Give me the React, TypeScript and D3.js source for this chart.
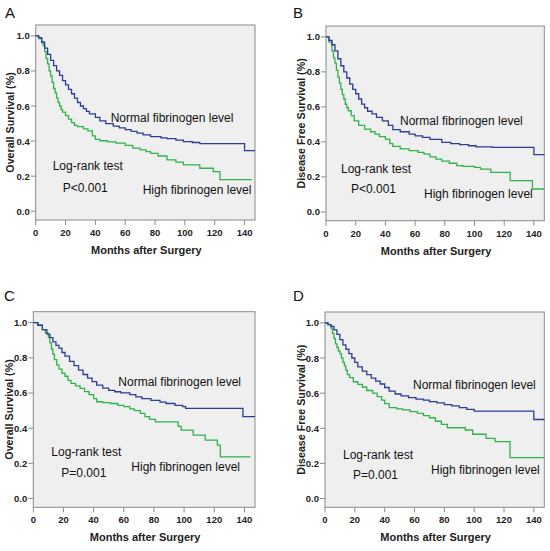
import React from "react";
import * as d3 from "d3";

// ---- Data (months, survival proportion) ----
const aNormal: [number, number][] = [
  [0, 1.0], [2, 0.99], [4, 0.965], [6, 0.93], [8, 0.895], [10, 0.86], [12, 0.83], [14, 0.8], [16, 0.775],
  [18, 0.745], [20, 0.72], [22, 0.695], [24, 0.67], [26, 0.645], [28, 0.62], [30, 0.6], [32, 0.585],
  [34, 0.57], [36, 0.555], [40, 0.535], [43, 0.515], [47, 0.5], [52, 0.485], [56, 0.475], [60, 0.465],
  [64, 0.455], [68, 0.445], [72, 0.435], [77, 0.425], [84, 0.418], [88, 0.414], [94, 0.405], [99, 0.397],
  [105, 0.392], [110, 0.386], [140, 0.346], [147, 0.346],
];
const aHigh: [number, number][] = [
  [0, 1.0], [2, 0.985], [4, 0.96], [5, 0.945], [6, 0.91], [7, 0.87], [8, 0.84], [9, 0.8], [10, 0.77],
  [11, 0.735], [12, 0.7], [13, 0.675], [14, 0.645], [15, 0.62], [16, 0.6], [17, 0.58], [18, 0.565],
  [20, 0.545], [22, 0.525], [24, 0.505], [26, 0.49], [28, 0.483], [32, 0.47], [35, 0.458], [38, 0.43],
  [40, 0.41], [43, 0.402], [48, 0.395], [54, 0.388], [60, 0.375], [65, 0.36], [70, 0.35], [74, 0.34],
  [77, 0.33], [82, 0.315], [88, 0.293], [94, 0.28], [99, 0.264], [110, 0.245], [119, 0.226], [123.5, 0.18],
  [145, 0.18],
];
const bNormal: [number, number][] = [
  [0, 1.0], [2, 0.98], [4, 0.955], [6, 0.92], [8, 0.875], [10, 0.835], [12, 0.8], [14, 0.765], [16, 0.73],
  [18, 0.7], [20, 0.675], [22, 0.645], [24, 0.616], [26, 0.595], [28, 0.575], [31, 0.56], [34, 0.54],
  [38, 0.52], [42, 0.495], [45, 0.47], [50, 0.458], [56, 0.445], [60, 0.435], [65, 0.426], [70, 0.415],
  [78, 0.397], [84, 0.39], [90, 0.384], [96, 0.378], [101, 0.372], [112, 0.369], [140, 0.327], [147, 0.327],
];
const bHigh: [number, number][] = [
  [0, 1.0], [2, 0.97], [4, 0.92], [5, 0.88], [6, 0.85], [7, 0.81], [8, 0.77], [9, 0.735], [10, 0.7],
  [11, 0.67], [12, 0.645], [13, 0.615], [14, 0.595], [15, 0.578], [17, 0.55], [19, 0.52], [22, 0.495],
  [26, 0.473], [30, 0.458], [33, 0.445], [36, 0.43], [40, 0.416], [43, 0.39], [45, 0.375], [50, 0.36],
  [56, 0.35], [62, 0.34], [66, 0.33], [70, 0.315], [74, 0.302], [78, 0.29], [83, 0.278], [88, 0.265],
  [92, 0.26], [100, 0.255], [104, 0.245], [111, 0.226], [124, 0.179], [139, 0.131], [147, 0.131],
];
const cNormal: [number, number][] = [
  [0, 1.0], [3, 0.985], [6, 0.96], [9, 0.935], [11, 0.915], [13, 0.89], [15, 0.87], [17, 0.855],
  [19, 0.83], [21, 0.81], [24, 0.78], [27, 0.755], [30, 0.73], [33, 0.705], [36, 0.684], [39, 0.665],
  [42, 0.645], [46, 0.628], [50, 0.615], [54, 0.607], [58, 0.6], [64, 0.59], [68, 0.578], [72, 0.568],
  [78, 0.558], [84, 0.548], [88, 0.54], [94, 0.53], [99, 0.522], [101, 0.512], [139, 0.465], [147, 0.465],
];
const cHigh: [number, number][] = [
  [0, 1.0], [3, 0.985], [6, 0.96], [8, 0.94], [10, 0.915], [11, 0.885], [12, 0.85], [13, 0.82],
  [14, 0.79], [15.5, 0.76], [17, 0.735], [19, 0.712], [21, 0.695], [23, 0.672], [25, 0.655], [28, 0.64],
  [31, 0.626], [34, 0.608], [37, 0.59], [40, 0.568], [42, 0.55], [46, 0.545], [51, 0.54], [56, 0.53],
  [60, 0.522], [64, 0.51], [67, 0.5], [71, 0.484], [74, 0.465], [77, 0.45], [81, 0.436], [96, 0.41],
  [98, 0.389], [106, 0.36], [114, 0.332], [122, 0.304], [124, 0.237], [144, 0.237],
];
const dNormal: [number, number][] = [
  [0, 1.0], [2, 0.99], [4, 0.98], [6, 0.96], [8, 0.935], [10, 0.905], [12, 0.875], [14, 0.85],
  [16, 0.825], [18, 0.8], [20, 0.775], [22, 0.75], [25, 0.725], [28, 0.705], [31, 0.685], [34, 0.668],
  [37, 0.652], [40, 0.632], [43, 0.612], [47, 0.595], [51, 0.585], [56, 0.575], [61, 0.566], [66, 0.56],
  [70, 0.552], [75, 0.545], [80, 0.535], [85, 0.527], [90, 0.518], [95, 0.508], [100, 0.498],
  [140, 0.45], [147, 0.45],
];
const dHigh: [number, number][] = [
  [0, 1.0], [2, 0.99], [4, 0.97], [5, 0.94], [6, 0.91], [7, 0.88], [8, 0.86], [9, 0.84], [10, 0.825],
  [11, 0.8], [12, 0.775], [13, 0.755], [14, 0.73], [15, 0.705], [16.5, 0.688], [19, 0.665], [22, 0.65],
  [25, 0.635], [28, 0.615], [32, 0.6], [35, 0.58], [38, 0.56], [40, 0.54], [43, 0.517], [48, 0.51],
  [52, 0.505], [57, 0.495], [62, 0.485], [66, 0.472], [70, 0.46], [74, 0.44], [78, 0.422], [82, 0.403],
  [94, 0.39], [99, 0.366], [108, 0.343], [114, 0.324], [124, 0.233], [147, 0.233],
];

const xTicks = [0, 20, 40, 60, 80, 100, 120, 140];
const yTicks = [0.0, 0.2, 0.4, 0.6, 0.8, 1.0];
const panelLetters = ["A", "B", "C", "D"];
const yTitles = ["Overall Survival (%)", "Disease Free Survival (%)", "Overall Survival (%)", "Disease Free Survival (%)"];
const pValues = ["P<0.001", "P<0.001", "P=0.001", "P=0.001"];
const xTitle = "Months after Surgery";
const normalLabel = "Normal fibrinogen level";
const highLabel = "High fibrinogen level";
const testLabel = "Log-rank test";

const normalSeries = [aNormal, bNormal, cNormal, dNormal];
const highSeries = [aHigh, bHigh, cHigh, dHigh];

// ---- Layout ----
const layouts = [
  { left: 35.7, top: 25, w: 219.3, h: 195, letterX: 5, letterY: 18, yTitleX: 14, normal: [75, 97], test: [17, 145], p: [27, 167], high: [107, 169] },
  { left: 326, top: 26, w: 218.3, h: 194.7, letterX: 293, letterY: 18, yTitleX: 305, normal: [74, 99], test: [15, 147], p: [25, 167], high: [98, 172] },
  { left: 33.3, top: 311.7, w: 221.7, h: 195.6, letterX: 4, letterY: 301, yTitleX: 12.5, normal: [85, 74], test: [18, 144], p: [28, 165], high: [98, 159] },
  { left: 325, top: 312, w: 219.3, h: 195.3, letterX: 293, letterY: 301, yTitleX: 305, normal: [88, 77], test: [18, 147], p: [28, 167], high: [106, 162] },
];

const BLUE = "#2d3c95";
const GREEN = "#2fb34a";
const AXIS = "#8a8a8a";
const FONT = "Liberation Sans, Arial, sans-serif";

function Panel({ i }: { i: number }) {
  const L = layouts[i];
  const x = d3.scaleLinear().domain([0, 147]).range([L.left, L.left + L.w]);
  const y = d3.scaleLinear().domain([-0.05, 1.062]).range([L.top + L.h, L.top]);
  const line = d3
    .line<[number, number]>()
    .x((d) => x(d[0]))
    .y((d) => y(d[1]))
    .curve(d3.curveStepAfter);
  const bottom = L.top + L.h;
  const cy = (y(-0.05) + y(1.062)) / 2;
  return (
    <g>
      <text x={L.letterX} y={L.letterY} fontFamily={FONT} fontSize={15} fill="#111">{panelLetters[i]}</text>
      <rect x={L.left} y={L.top} width={L.w} height={L.h} fill="#efefef" stroke={AXIS} strokeWidth={1} />
      {yTicks.map((t) => (
        <g key={"y" + t}>
          <line x1={L.left - 5} x2={L.left} y1={y(t)} y2={y(t)} stroke={AXIS} />
          <text x={L.left - 6} y={y(t) + 3.5} textAnchor="end" fontFamily={FONT} fontWeight="bold" fontSize={9.5} fill="#222">
            {t.toFixed(1)}
          </text>
        </g>
      ))}
      {xTicks.map((t) => (
        <g key={"x" + t}>
          <line x1={x(t)} x2={x(t)} y1={bottom} y2={bottom + 5} stroke={AXIS} />
          <text x={x(t)} y={bottom + 16} textAnchor="middle" fontFamily={FONT} fontWeight="bold" fontSize={9.5} fill="#222">
            {t}
          </text>
        </g>
      ))}
      <text
        transform={`translate(${L.yTitleX},${cy}) rotate(-90)`}
        textAnchor="middle"
        fontFamily={FONT}
        fontWeight="bold"
        fontSize={10.7}
        fill="#222"
      >
        {yTitles[i]}
      </text>
      <text x={L.left + L.w / 2 + 1} y={bottom + 34} textAnchor="middle" fontFamily={FONT} fontWeight="bold" fontSize={11} fill="#222">
        {xTitle}
      </text>
      <path d={line(highSeries[i]) || ""} fill="none" stroke={GREEN} strokeWidth={1.3} />
      <path d={line(normalSeries[i]) || ""} fill="none" stroke={BLUE} strokeWidth={1.3} />
      <text x={L.left + L.normal[0]} y={L.top + L.normal[1]} fontFamily={FONT} fontSize={12} fill="#111">{normalLabel}</text>
      <text x={L.left + L.test[0]} y={L.top + L.test[1]} fontFamily={FONT} fontSize={12} fill="#111">{testLabel}</text>
      <text x={L.left + L.p[0]} y={L.top + L.p[1]} fontFamily={FONT} fontSize={12} fill="#111">{pValues[i]}</text>
      <text x={L.left + L.high[0]} y={L.top + L.high[1]} fontFamily={FONT} fontSize={12} fill="#111">{highLabel}</text>
    </g>
  );
}

export default function App() {
  return (
    <svg
      width={550}
      height={551}
      style={{ position: "absolute", left: 0, top: 0, background: "#fff" }}
    >
      <rect width={550} height={551} fill="#fff" />
      {[0, 1, 2, 3].map((i) => (
        <Panel key={i} i={i} />
      ))}
    </svg>
  );
}
